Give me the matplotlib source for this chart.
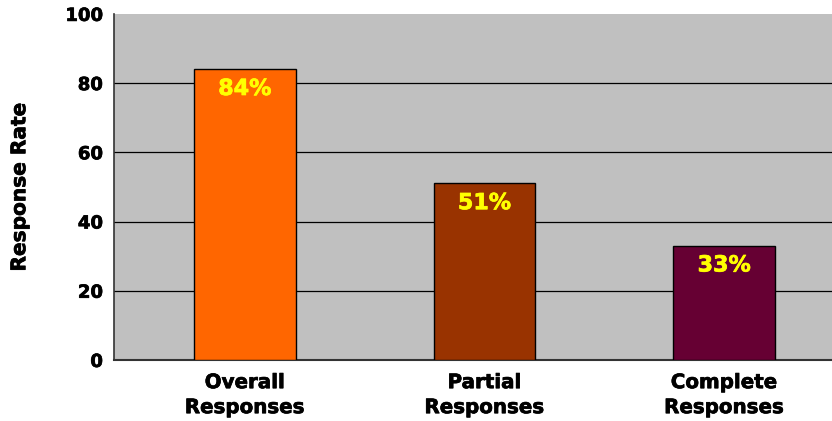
import matplotlib.pyplot as plt
import matplotlib.patheffects as pe

# response rates by category
categories = ['Overall\nResponses', 'Partial\nResponses', 'Complete\nResponses']
rates = [84, 51, 33]
bar_colors = ['#FF6600', '#993300', '#660033']

heavy = [pe.withStroke(linewidth=0.5, foreground='black')]

fig = plt.figure(figsize=(8.32, 4.21), dpi=100)
ax = fig.add_axes([0.137, 0.145, 0.863, 0.822])
ax.set_facecolor('#C0C0C0')

x = range(len(categories))
ax.bar(x, rates, width=0.425, color=bar_colors, edgecolor='black', linewidth=1, zorder=3)

# percentage labels inside the top of each bar
for xi, r in zip(x, rates):
    ax.annotate(f'{r}%', xy=(xi, r), xytext=(0, -7), textcoords='offset points',
                ha='center', va='top', color='#FFFF00', fontsize=16, fontweight='bold', zorder=4,
                path_effects=[pe.withStroke(linewidth=0.5, foreground='#FFFF00')])

ax.set_ylim(0, 100)
ax.set_xlim(-0.546, 2.45)
ax.set_yticks([0, 20, 40, 60, 80, 100])
ax.yaxis.grid(True, color='black', linewidth=0.9, zorder=1)
ax.yaxis.get_gridlines()[-1].set_visible(False)
ax.set_xticks(list(x))
ax.set_xticklabels(categories, fontsize=14.3, fontweight='bold', linespacing=1.4)
ax.tick_params(axis='both', length=0)
ax.tick_params(axis='y', pad=8, labelsize=13)
ax.tick_params(axis='x', pad=9.5)
for lbl in ax.get_yticklabels() + ax.get_xticklabels():
    lbl.set_fontweight('bold')
    lbl.set_path_effects(heavy)

ax.set_ylabel('Response Rate', fontsize=14.5, fontweight='bold', labelpad=26,
              path_effects=heavy)

for side in ['top', 'right']:
    ax.spines[side].set_visible(False)
ax.spines['left'].set_color('#333333')
ax.spines['bottom'].set_color('#333333')
ax.spines['left'].set_linewidth(1.2)
ax.spines['bottom'].set_linewidth(1.5)

plt.savefig('out.png', dpi=100)
